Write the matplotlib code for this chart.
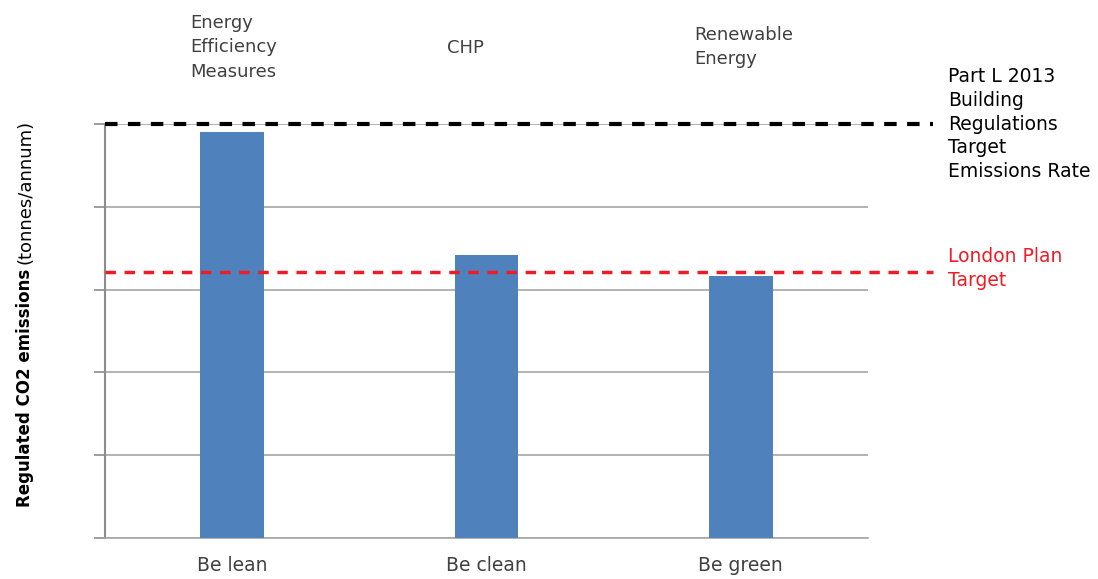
import matplotlib.pyplot as plt
from matplotlib.transforms import blended_transform_factory

plt.rcParams['font.family'] = ['DejaVu Sans']

# Chart data
categories = ['Be lean', 'Be clean', 'Be green']
emissions = [4.90, 3.42, 3.16]
stage_labels = ['Energy\nEfficiency\nMeasures', 'CHP', 'Renewable\nEnergy']
part_l_target = 5.0
london_plan_target = 3.21
part_l_label = 'Part L 2013\nBuilding\nRegulations\nTarget\nEmissions Rate'
london_label = 'London Plan\nTarget'

W, H = 1098, 579
fig = plt.figure(figsize=(W / 100, H / 100), dpi=100)
ax = fig.add_axes([105 / W, 41 / H, 763 / W, 414 / H])

x = range(len(categories))
ax.bar(x, emissions, width=0.25, color='#4f81bd', zorder=3)
ax.set_xlim(-0.5, 2.5)
ax.set_ylim(0, 5)
ax.set_yticks([0, 1, 2, 3, 4, 5])
ax.set_yticklabels([])
ax.yaxis.grid(True, color='#a6a6a6', linewidth=1.2, zorder=0)
ax.set_xticks(list(x))
ax.set_xticklabels(categories, fontsize=13.5, color='#404040')
ax.tick_params(axis='x', length=0, pad=13)
ax.tick_params(axis='y', length=8, color='#8c8c8c', width=1.2)
for side in ['top', 'right']:
    ax.spines[side].set_visible(False)
ax.spines['left'].set_color('#8c8c8c')
ax.spines['left'].set_linewidth(1.5)
ax.spines['bottom'].set_color('#a6a6a6')
ax.spines['bottom'].set_linewidth(1.2)

# target lines, running past the plot area
tr = blended_transform_factory(ax.transAxes, ax.transData)
ax.plot([0, 1.085], [part_l_target] * 2, transform=tr, color='black',
        linestyle=(0, (3, 2.5)), linewidth=3, clip_on=False, zorder=4)
ax.plot([0, 1.085], [london_plan_target] * 2, transform=tr, color='#ee1c25',
        linestyle=(0, (3, 2.5)), linewidth=2.5, clip_on=False, zorder=4)


def put_lines(text, px, first_baseline, step, color, size=13.5):
    # one line at a time so the spacing follows the reference
    for i, line in enumerate(text.split('\n')):
        fig.text(px / W, 1 - (first_baseline + i * step) / H, line,
                 fontsize=size, color=color, ha='left', va='baseline')


put_lines(part_l_label, 948, 82, 23.8, 'black')
put_lines(london_label, 948, 262, 24, '#ee1c25')

# stage labels above the bars
stage_pos = [(190, 28), (447, 53), (694, 40)]
for lbl, (px, py) in zip(stage_labels, stage_pos):
    put_lines(lbl, px, py, 24.5, '#404040', size=13)

# y label: bold part then normal part, sharing one baseline
t1 = fig.text(30 / W, 1 - 507 / H, 'Regulated CO2 emissions', rotation=90,
              rotation_mode='anchor', fontsize=12, fontweight='bold',
              color='black', ha='left', va='baseline')
fig.canvas.draw()
bb = t1.get_window_extent(fig.canvas.get_renderer())
fig.text(30 / W, (bb.y1 + 5) / fig.bbox.height, '(tonnes/annum)', rotation=90,
         rotation_mode='anchor', fontsize=13, color='black',
         ha='left', va='baseline')

fig.savefig('out.png', dpi=100)
